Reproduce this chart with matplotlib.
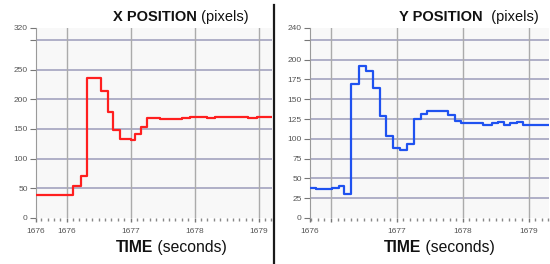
import matplotlib
matplotlib.use("Agg")
import matplotlib.pyplot as plt
from matplotlib.lines import Line2D
from matplotlib.ticker import MultipleLocator

plt.rcParams["font.family"] = ["Liberation Sans", "DejaVu Sans"]

# X position trace (step samples), time in seconds
X_TIME = [1675.52, 1676.10, 1676.23, 1676.31, 1676.53, 1676.64, 1676.73, 1676.84,
          1677.00, 1677.07, 1677.16, 1677.26, 1677.46, 1677.80, 1677.93, 1678.19,
          1678.32, 1678.84, 1678.97, 1679.21]
X_POS = [38, 54, 70, 236, 214, 179, 148, 133, 131, 142, 154, 168, 166.5, 168,
         170.5, 168.5, 170.5, 168.5, 170.5, 170.5]

# Y position trace
Y_TIME = [1675.68, 1675.77, 1676.02, 1676.12, 1676.20, 1676.31, 1676.42, 1676.53,
          1676.63, 1676.74, 1676.83, 1676.94, 1677.05, 1677.15, 1677.26, 1677.37,
          1677.45, 1677.78, 1677.88, 1677.98, 1678.11, 1678.31, 1678.44, 1678.54,
          1678.62, 1678.72, 1678.82, 1678.92, 1679.13, 1679.20, 1679.31]
Y_POS = [38.5, 37, 37.5, 40.5, 30, 169, 192.5, 186, 164, 129, 103, 88, 85.5, 94,
         124.5, 131.5, 135, 129.5, 122.5, 120.5, 119.5, 118, 119.5, 121, 118,
         120.5, 121, 118, 117, 118, 118]

X_YTICKS = [0, 50, 100, 150, 200, 250, 300, 320]
X_YGRID = [50, 100, 150, 200, 250, 300]
Y_YTICKS = [0, 25, 50, 75, 100, 125, 150, 175, 200, 225, 240]
Y_YGRID = [25, 50, 75, 100, 125, 150, 175, 200, 225]
SECONDS = [1676, 1677, 1678, 1679]

W, H = 550, 264
fig = plt.figure(figsize=(W / 100, H / 100), dpi=100)
fig.patch.set_facecolor("white")


def box(x0, x1, y_top=28, y_bot=218):
    return [x0 / W, 1 - y_bot / H, (x1 - x0) / W, (y_bot - y_top) / H]


def setup(ax, t, v, color, ymax, yticks, ygrid, xticks, xlabels):
    ax.set_facecolor("#f8f8f8")
    ax.step(t, v, where="post", color=color, lw=1.6, zorder=3)
    ax.set_xlim(t[0], t[-1])
    ax.set_ylim(0, ymax)
    for g in ygrid:
        ax.axhline(g, color="#9c9cba", lw=1.1, zorder=1)
    for s in SECONDS:
        ax.axvline(s, color="#ababab", lw=1.0, zorder=1)
    for side in ("top", "right", "bottom"):
        ax.spines[side].set_visible(False)
    ax.spines["left"].set_color("#9a9a9a")
    ax.set_yticks(yticks)
    ax.set_yticklabels(["" if (y not in (0, ymax) and y not in ygrid[:-1]) else str(y)
                        for y in yticks])
    ax.set_xticks(xticks)
    ax.set_xticklabels(xlabels)
    ax.xaxis.set_minor_locator(MultipleLocator(0.1))
    ax.tick_params(axis="y", length=4, width=0.8, color="#777", pad=2,
                   labelsize=6, labelcolor="#555")
    ax.tick_params(axis="x", which="major", length=3, width=1, color="#777",
                   pad=4, labelsize=6, labelcolor="#555")
    ax.tick_params(axis="x", which="minor", length=2, width=1, color="#888")


def two_part(x_center, y, bold, normal, size):
    r = fig.canvas.get_renderer()
    t1 = fig.text(0, y, bold, fontsize=size, fontweight="bold", color="#111")
    t2 = fig.text(0, y, normal, fontsize=size, color="#111")
    w1 = t1.get_window_extent(r).width
    w2 = t2.get_window_extent(r).width
    x0 = x_center - (w1 + w2) / 2
    t1.set_x(x0 / W)
    t2.set_x((x0 + w1) / W)


ax1 = fig.add_axes(box(36, 272))
setup(ax1, X_TIME, X_POS, "#ff1f1f", 320, X_YTICKS, X_YGRID,
      [X_TIME[0]] + SECONDS, ["%.0f" % X_TIME[0]] + [str(s) for s in SECONDS])

ax2 = fig.add_axes(box(310, 549))
setup(ax2, Y_TIME, Y_POS, "#1f52f0", 240, Y_YTICKS, Y_YGRID,
      [Y_TIME[0]] + SECONDS, ["%.0f" % Y_TIME[0], ""] + [str(s) for s in SECONDS[1:]])

two_part(181, 1 - 21 / H, "X POSITION", " (pixels)", 10.5)
two_part(469, 1 - 21 / H, "Y POSITION", "  (pixels)", 10.5)
two_part(171, 1 - 252 / H, "TIME", " (seconds)", 11.3)
two_part(439, 1 - 252 / H, "TIME", " (seconds)", 11.3)

fig.add_artist(Line2D([273.5 / W] * 2, [0, 1 - 5 / H], transform=fig.transFigure,
                      color="#1a1a1a", lw=1.6))

fig.savefig("out.png", dpi=100)
